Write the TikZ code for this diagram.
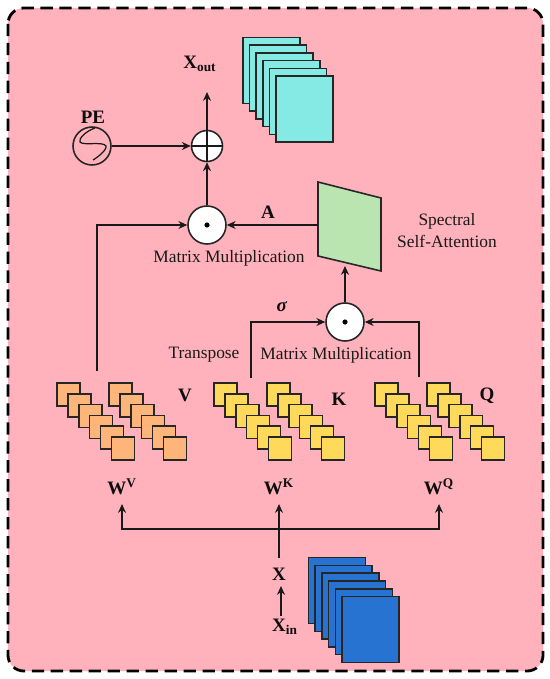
\documentclass[tikz,border=0pt]{standalone}
\usepackage{fontspec}
\setmainfont{Liberation Serif}
\usetikzlibrary{arrows.meta,positioning}
\definecolor{panel}{HTML}{FFB1BC}
\definecolor{outcyan}{HTML}{86EAE4}
\definecolor{attn}{HTML}{BAE5B0}
\definecolor{valorange}{HTML}{FDB57A}
\definecolor{keyyellow}{HTML}{FFD95A}
\definecolor{inblue}{HTML}{2673D1}
\tikzset{
  sheet/.style={draw=black!85,line width=0.9pt,inner sep=0pt,minimum width=1.14cm,minimum height=1.32cm},
  tile/.style={draw=black!85,line width=0.9pt,inner sep=0pt,minimum size=0.46cm},
  opcircle/.style={draw=black!85,circle,fill=white,line width=0.9pt,inner sep=0pt,minimum size=0.76cm},
  flow/.style={-{Stealth[length=5pt,width=4.5pt]},line width=0.9pt,black!90},
  wire/.style={line width=0.9pt,black!90},
  caption/.style={font=\fontsize{9.9}{12}\selectfont,text=black!90,inner sep=0pt},
  symb/.style={font=\fontsize{10.8}{13}\selectfont\bfseries,text=black!95,inner sep=0pt}
}
\begin{document}
\begin{tikzpicture}[x=0.02cm,y=-0.02cm]
  \useasboundingbox (0,0) rectangle (550,679);
  \draw[dash pattern=on 7pt off 3.8pt,line width=1.6pt,rounded corners=9pt,fill=panel] (8,8) rectangle (543,671);

  % Output and input stacks
  \foreach \i in {0,...,5}
    \node[sheet,fill=outcyan] (cyan\i) at ({271.5+6.6*\i},{70.5+7.7*\i}) {};
  \foreach \i in {0,...,5}
    \node[sheet,fill=inblue] (blue\i) at ({337+6.7*\i},{590.5+7.8*\i}) {};

  % Operators
  \node[opcircle,minimum size=0.62cm] (plus) at (207,146) {};
  \draw[wire] (plus.north) -- (plus.south) (plus.west) -- (plus.east);
  \node[opcircle,fill=none] (pe) at (92,146) {};
  \draw[wire,line width=0.7pt] (95,128) .. controls (86,131) and (78,139) .. (80,142) .. controls (83,146) and (103,141) .. (106,146) .. controls (107,150) and (98,157) .. (93,160);
  \node[opcircle] (dot1) at (207,225) {};
  \fill (dot1) circle (2.6);
  \node[opcircle] (dot2) at (345,322) {};
  \fill (dot2) circle (2.6);

  % Attention map
  \draw[draw=black!85,line width=0.9pt,fill=attn] (318,182) -- (381,198) -- (381,271) -- (318,256) -- cycle;
  \coordinate (attnleft) at (318,225);
  \coordinate (attnlow) at (345,266);

  % Weight tiles
  \foreach \name/\col/\xa in {va/valorange/68.5,vb/valorange/120.5,ka/keyyellow/225.5,kb/keyyellow/278.5,qa/keyyellow/386.5,qb/keyyellow/438.5}
    \foreach \i in {0,...,5}
      \node[tile,fill=\col] (\name\i) at ({\xa+10.9*\i},{394.5+10.8*\i}) {};

  % Labels
  \node[symb] (xout) at (200,64) {X\textsubscript{out}};
  \node[symb] (pelabel) at (93,117) {PE};
  \node[symb] (alabel) at (268,212) {A};
  \node[symb] (sigma) at (282,307) {\textit{σ}};
  \node[symb] (vlabel) at (185,395) {V};
  \node[symb] (klabel) at (339,399) {K};
  \node[symb] (qlabel) at (487,396) {Q};
  \node[symb] (wv) at (122,487) {W\textsuperscript{V}};
  \node[symb] (wk) at (279,487) {W\textsuperscript{K}};
  \node[symb] (wq) at (439,487) {W\textsuperscript{Q}};
  \node[symb] (x) at (279,574) {X};
  \node[symb] (xin) at (285,627) {X\textsubscript{in}};
  \node[caption] (mm1) at (229,258) {Matrix Multiplication};
  \node[caption] (mm2) at (336,355) {Matrix Multiplication};
  \node[caption] (transpose) at (204,355) {Transpose};
  \node[caption,align=center] (ssa) at (447,230.5) {Spectral\\[1pt]Self-Attention};

  % Connectors
  \coordinate (vtop) at (97,371);
  \coordinate (ktop) at (251,378);
  \coordinate (qtop) at (419,377);
  \coordinate (xtop) at (279,558);
  \coordinate (xinarrow) at (281,616);
  \coordinate (xarrow) at (281,586);
  \coordinate (outarrow) at (207,92);
  \draw[flow] (plus) -- (outarrow);
  \draw[flow] (pe) -- (plus);
  \draw[flow] (dot1) -- (plus);
  \draw[flow] (attnleft) -- (dot1);
  \draw[flow] (vtop) |- (dot1);
  \draw[flow] (dot2) -- (attnlow);
  \draw[flow] (ktop) |- (dot2);
  \draw[flow] (qtop) |- (dot2);
  \coordinate (wkfoot) at (279,504);
  \coordinate (junction) at (279,529);
  \coordinate (wvfoot) at (122,504);
  \coordinate (wqfoot) at (439,504);
  \draw[flow] (xtop) -- (wkfoot);
  \draw[flow] (junction) -| (wvfoot);
  \draw[flow] (junction) -| (wqfoot);
  \draw[flow] (xinarrow) -- (xarrow);
\end{tikzpicture}
\end{document}
